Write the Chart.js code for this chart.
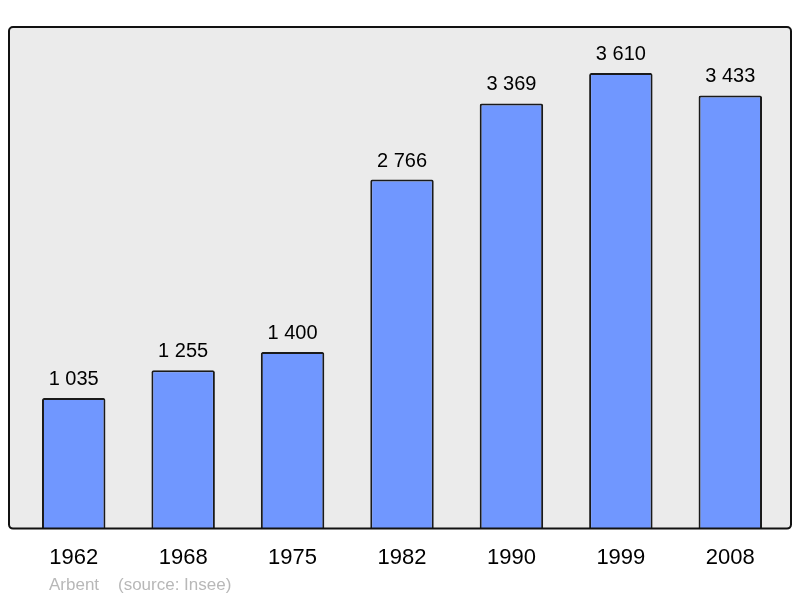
<!DOCTYPE html>
<html>
<head>
<meta charset="utf-8">
<script src="https://cdn.jsdelivr.net/npm/chart.js@4"></script>
<style>
  body { margin: 0; background: #fff; }
  #wrap { width: 800px; height: 598px; }
</style>
</head>
<body>
<div id="wrap"><canvas id="popChart" width="800" height="598"></canvas></div>
<script>
const years = ['1962', '1968', '1975', '1982', '1990', '1999', '2008'];
const population = [1035, 1255, 1400, 2766, 3369, 3610, 3433];
const yMax = 3975;
const footerText = 'Arbent    (source: Insee)';

const fmt = v => String(v).replace(/\B(?=(\d{3})+(?!\d))/g, ' ');

// grey plot box behind the bars
const plotBox = {
  id: 'plotBox',
  beforeDraw(chart) {
    const { ctx, chartArea: a } = chart;
    ctx.save();
    ctx.beginPath();
    ctx.roundRect(9, a.top, 782, a.bottom - a.top, 4);
    ctx.fillStyle = '#ebebeb';
    ctx.fill();
    ctx.restore();
  },
  afterDatasetsDraw(chart) {
    const { ctx, chartArea: a } = chart;
    ctx.save();
    ctx.beginPath();
    ctx.roundRect(9, a.top, 782, a.bottom - a.top, 4);
    ctx.lineWidth = 2;
    ctx.strokeStyle = '#111';
    ctx.stroke();
    // value labels
    ctx.fillStyle = '#000';
    ctx.font = '20px "Liberation Sans", Arial, sans-serif';
    ctx.textAlign = 'center';
    ctx.textBaseline = 'alphabetic';
    chart.getDatasetMeta(0).data.forEach((bar, i) => {
      ctx.fillText(fmt(population[i]), bar.x, bar.y - 13);
    });
    // footer
    ctx.fillStyle = '#b8b8b8';
    ctx.font = '17px "Liberation Sans", Arial, sans-serif';
    ctx.textAlign = 'left';
    ctx.textBaseline = 'middle';
    ctx.fillText(footerText, 49, 585);
    ctx.restore();
  }
};

new Chart(document.getElementById('popChart').getContext('2d'), {
  type: 'bar',
  data: {
    labels: years,
    datasets: [{
      data: population,
      backgroundColor: '#7097ff',
      borderColor: '#1a1a1a',
      borderWidth: 2,
      borderSkipped: 'bottom',
      borderRadius: 2,
      barPercentage: 0.58,
      categoryPercentage: 1
    }]
  },
  options: {
    responsive: false,
    animation: false,
    layout: { padding: { top: 27, left: 19, right: 15, bottom: 19 } },
    plugins: { legend: { display: false }, tooltip: { enabled: false } },
    scales: {
      x: {
        grid: { display: false },
        border: { display: false },
        ticks: {
          color: '#000',
          padding: 8,
          font: { family: '"Liberation Sans", Arial, sans-serif', size: 22 }
        }
      },
      y: { display: false, min: 0, max: yMax }
    }
  },
  plugins: [plotBox]
});
</script>
</body>
</html>
